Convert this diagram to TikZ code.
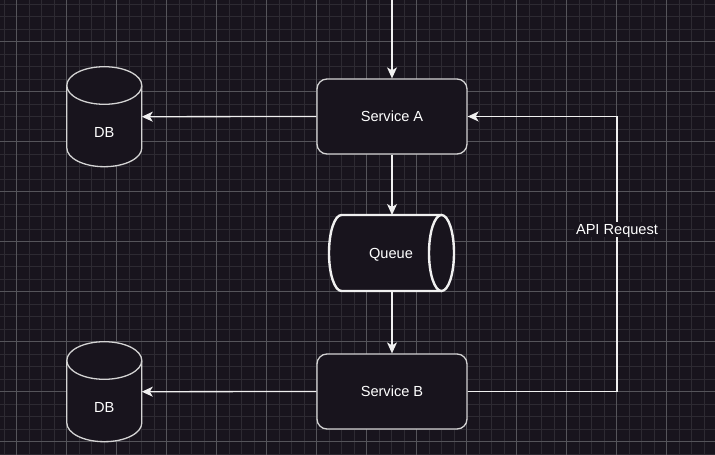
\documentclass[tikz,border=0pt]{standalone}
\usepackage{fontspec}
\setmainfont{Liberation Sans}
\usetikzlibrary{arrows.meta,calc}
\definecolor{bgc}{HTML}{18141D}
\definecolor{minorc}{HTML}{2D2A32}
\definecolor{majorc}{HTML}{55545A}
\definecolor{edgec}{HTML}{F0F0F0}
\definecolor{borderc}{HTML}{D4D4D4}
\tikzset{
  boxline/.style={draw=borderc, line width=1.3pt, fill=bgc},
  queueline/.style={draw=edgec, line width=2.4pt, fill=bgc},
  conn/.style={draw=edgec, line width=1.3pt, -{Stealth[length=11pt,width=10pt,inset=3pt]}},
  svc/.style={boxline, rounded corners=10pt, minimum width=150pt, minimum height=75pt, inner sep=0pt, text depth=0pt, font=\fontsize{14.6}{18}\selectfont, text=white},
  txt/.style={font=\fontsize{14.6}{18}\selectfont, text=white, inner sep=0pt, text depth=0pt},
  lbl/.style={font=\fontsize{14.6}{18}\selectfont, text=white, fill=bgc, inner sep=2pt},
  anchorbox/.style={inner sep=0pt, outer sep=0pt},
}
\newcommand\mydbcyl[3]{%
  \draw[boxline] (#2-37.5,#3-31.2) -- (#2-37.5,#3+31.2)
     arc[start angle=180,end angle=0,x radius=37.5,y radius=18.8]
     -- (#2+37.5,#3-31.2);
  \draw[boxline] (#2,#3-31.2) ellipse [x radius=37.5, y radius=18.8];
  \node[anchorbox, minimum width=75pt, minimum height=100pt] (#1) at (#2,#3) {};
  \node[txt] at (#2,#3+16) {DB};
}
\begin{document}
\begin{tikzpicture}[x=1pt,y=-1pt]
\fill[bgc] (0,0) rectangle (715,455);
\useasboundingbox (0,0) rectangle (715,455);
% grid
\foreach \i in {0,...,57} {
  \draw[minorc, line width=0.9pt] ({4.17+12.5*\i},0) -- ({4.17+12.5*\i},455);
}
\foreach \i in {0,...,36} {
  \draw[minorc, line width=0.9pt] (0,{4.17+12.5*\i}) -- (715,{4.17+12.5*\i});
}
\foreach \i in {0,...,14} {
  \draw[majorc, line width=0.9pt] ({16.67+50*\i},0) -- ({16.67+50*\i},455);
}
\foreach \i in {0,...,8} {
  \draw[majorc, line width=0.9pt] (0,{41.67+50*\i}) -- (715,{41.67+50*\i});
}
% services
\node[svc] (sa) at (392,116.5) {Service A};
\node[svc] (sb) at (392,391.5) {Service B};
% queue
\draw[queueline] (441.5,215) -- (341.5,215)
   arc[start angle=-90,end angle=-270,x radius=12.5,y radius=38] -- (441.5,291);
\draw[queueline] (441.5,253) ellipse [x radius=12.5, y radius=38];
\node[anchorbox, minimum width=125pt, minimum height=76pt] (q) at (391.5,253) {};
\node[txt] at (391,253.5) {Queue};
% databases
\mydbcyl{db1}{104.3}{116.7}
\mydbcyl{db2}{104.3}{391.7}
% connectors
\coordinate (top) at (392,0);
\coordinate (rr) at (617,0);
\draw[conn] (top) -- (sa.north);
\draw[conn] (sa.west) -- (db1.east);
\draw[conn] (sa.south) -- (sa.south |- q.north);
\draw[conn] (sb.north |- q.south) -- (sb.north);
\draw[conn] (sb.west) -- (db2.east);
\draw[conn] (sb.east) -- (rr |- sb.east) -- (rr |- sa.east) -- (sa.east);
\node[lbl, text depth=0pt] (api) at (617,229.5) {API Request};
\end{tikzpicture}
\end{document}
